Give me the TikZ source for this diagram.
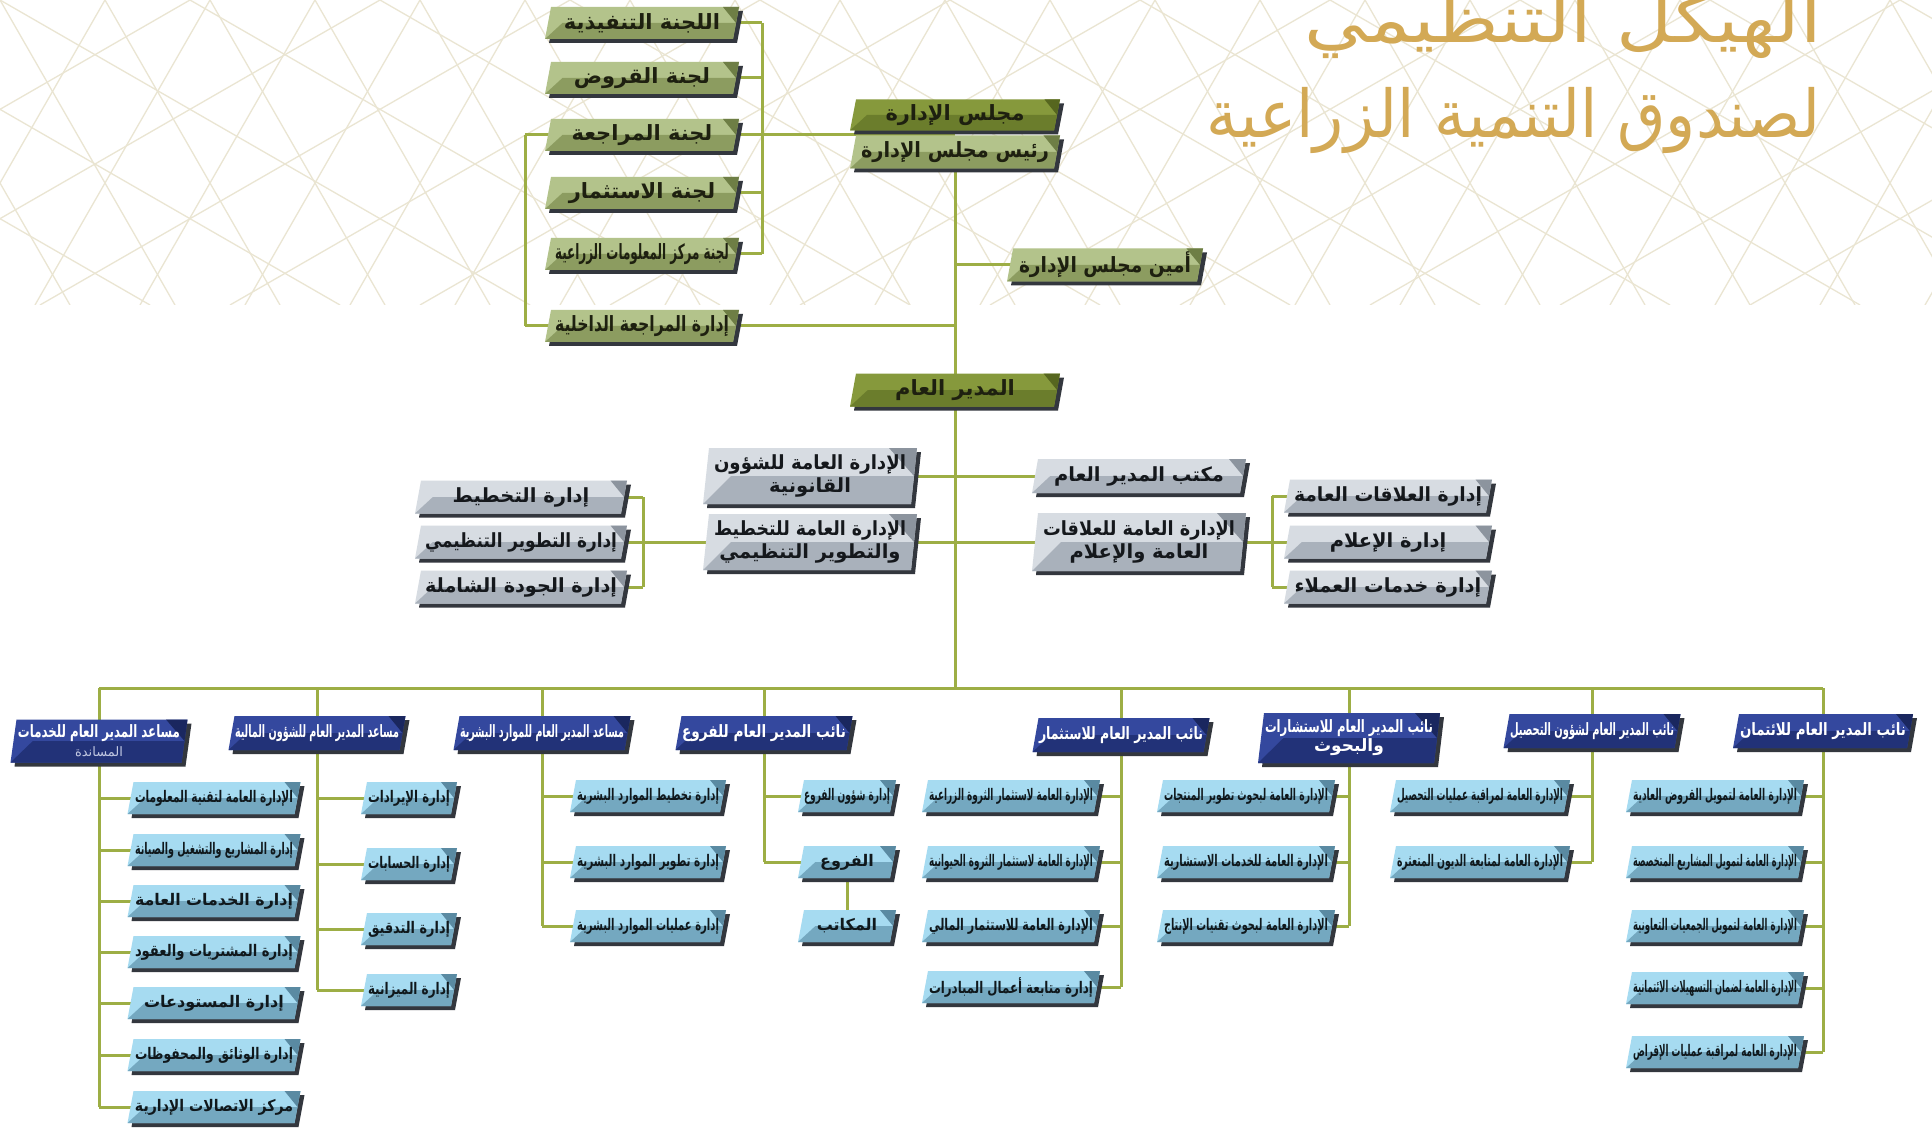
\documentclass[tikz,border=0pt]{standalone}
\usepackage{fontspec}
\usepackage{graphicx}
\newfontfamily\arabicfont[Script=Arabic]{DejaVu Sans}
\TeXXeTstate=1
\usetikzlibrary{calc}
\pgfdeclarelayer{bg}\pgfdeclarelayer{lines}\pgfsetlayers{bg,lines,main}
\definecolor{grA}{HTML}{B3C38B}\definecolor{grB}{HTML}{8C9C60}\definecolor{grC}{HTML}{6E7E45}\definecolor{grT}{HTML}{1E2010}
\definecolor{dgA}{HTML}{86993C}\definecolor{dgB}{HTML}{6B7D2C}\definecolor{dgC}{HTML}{56661F}\definecolor{dgT}{HTML}{1E2010}
\definecolor{gyA}{HTML}{D7DCE2}\definecolor{gyB}{HTML}{A9B1BB}\definecolor{gyC}{HTML}{8C949E}\definecolor{gyT}{HTML}{15181C}
\definecolor{dbA}{HTML}{34489E}\definecolor{dbB}{HTML}{223278}\definecolor{dbC}{HTML}{1A275F}\definecolor{dbT}{HTML}{FFFFFF}
\definecolor{lbA}{HTML}{A6DBF1}\definecolor{lbB}{HTML}{74A8C0}\definecolor{lbC}{HTML}{5A8AA2}\definecolor{lbT}{HTML}{10181C}
\definecolor{shc}{HTML}{33373E}
\definecolor{lnc}{HTML}{9DAE45}
\definecolor{patc}{HTML}{EAE5D2}
\definecolor{gold}{HTML}{D3A955}
\newcommand\arx[1]{{\arabicfont #1}}
\newsavebox\tbx
\newcommand\fitT[2]{\sbox\tbx{\arx{#2}}\ifdim\wd\tbx>#1pt\relax\resizebox{#1pt}{\height}{\usebox\tbx}\else\usebox\tbx\fi}
\def\sk{6}
\newcommand\bx[7]{%
\pgfmathsetmacro\bxL{#2-#4/2}\pgfmathsetmacro\bxR{#2+#4/2}%
\pgfmathsetmacro\bxT{#3-#5/2}\pgfmathsetmacro\bxB{#3+#5/2}%
\pgfmathsetmacro\bxH{#5}%
\fill[shc] (\bxL+\sk+4,\bxT+4) -- (\bxR+4,\bxT+4) -- (\bxR-\sk+4,\bxB+4) -- (\bxL+4,\bxB+4) -- cycle;
\fill[#6A] (\bxL+\sk,\bxT) -- (\bxR,\bxT) -- (\bxR-\sk,\bxB) -- (\bxL,\bxB) -- cycle;
\fill[#6B] (\bxL,\bxB) -- (\bxL+\sk/2+0.45*\bxH,#3) -- (\bxR-\sk/2,#3) -- (\bxR-\sk,\bxB) -- cycle;
\fill[#6C] (\bxR-0.5*\bxH,\bxT) -- (\bxR,\bxT) -- (\bxR-\sk/2,#3) -- cycle;
\node[#6, text=#6T, inner sep=0pt, minimum width=#4, minimum height=#5, align=center] (#1) at (#2,#3) {#7};
}
\tikzset{
gr/.style={font=\fontsize{21}{24}\selectfont\bfseries},
dg/.style={font=\fontsize{21}{24}\selectfont\bfseries},
gy/.style={font=\fontsize{19.5}{23}\selectfont\bfseries},
db/.style={font=\fontsize{17}{19}\selectfont\bfseries},
lb/.style={font=\fontsize{16}{18}\selectfont\bfseries},
ln/.style={draw=lnc, line width=3pt},
patline/.style={draw=patc, line width=1.3pt}
}
\begin{document}
\begin{tikzpicture}[x=1pt,y=-1pt]
\useasboundingbox (0,0) rectangle (1932,1131);
\begin{pgfonlayer}{bg}
\fill[white] (0,0) rectangle (1932,1131);
\begin{scope}
\clip (0,0) rectangle (1932,305);
\foreach \i in {-6,...,22} {
  \draw[patline] (\i*105,0) -- ++(175,305);
  \draw[patline] (\i*105,0) -- ++(-175,305);
}
\foreach \i in {-4,...,14} {
  \draw[patline] (\i*190,0) -- ++(530,305);
  \draw[patline] (\i*190,0) -- ++(-530,305);
}
\end{scope}
\end{pgfonlayer}

% title
\node[anchor=base east, inner sep=0pt, text=gold, font=\fontsize{66}{70}\selectfont] (ttl1) at (1822,43) {\resizebox{517pt}{\height}{\arx{\beginR الهيكل التنظيمي\endR}}};
\node[anchor=base east, inner sep=0pt, text=gold, font=\fontsize{66}{70}\selectfont] (ttl2) at (1821,138) {\resizebox{614pt}{\height}{\arx{\beginR لصندوق التنمية الزراعية\endR}}};

% committees
\bx{c1}{642}{23}{194}{32}{gr}{\fitT{172}{\beginR اللجنة التنفيذية\endR}}
\bx{c2}{642}{78}{194}{32}{gr}{\fitT{172}{\beginR لجنة القروض\endR}}
\bx{c3}{642}{135}{194}{32}{gr}{\fitT{172}{\beginR لجنة المراجعة\endR}}
\bx{c4}{642}{193}{194}{32}{gr}{\fitT{172}{\beginR لجنة الاستثمار\endR}}
\bx{c5}{642}{254}{194}{32}{gr}{\fitT{174}{\beginR لجنة مركز المعلومات الزراعية\endR}}
\bx{c6}{642}{326}{194}{32}{gr}{\fitT{174}{\beginR إدارة المراجعة الداخلية\endR}}
% board
\bx{board}{955}{115}{210}{31}{dg}{\fitT{180}{\beginR مجلس الإدارة\endR}}
\bx{chair}{955}{152}{210}{33}{gr}{\fitT{188}{\beginR رئيس مجلس الإدارة\endR}}
\bx{sec}{1105}{265}{196}{33}{gr}{\fitT{172}{\beginR أمين مجلس الإدارة\endR}}
\bx{gm}{955}{390}{210}{33}{dg}{\fitT{180}{\beginR المدير العام\endR}}
% middle
\bx{legal}{810}{476}{214}{56}{gy}{\fitT{192}{\beginR الإدارة العامة للشؤون\endR}\\\fitT{192}{\beginR القانونية\endR}}
\bx{office}{1139}{476}{214}{34}{gy}{\fitT{192}{\beginR مكتب المدير العام\endR}}
\bx{plan}{810}{542}{214}{56}{gy}{\fitT{192}{\beginR الإدارة العامة للتخطيط\endR}\\\fitT{192}{\beginR والتطوير التنظيمي\endR}}
\bx{pr}{1139}{542}{214}{58}{gy}{\fitT{192}{\beginR الإدارة العامة للعلاقات\endR}\\\fitT{192}{\beginR العامة والإعلام\endR}}
\bx{p1}{521}{497}{212}{33}{gy}{\fitT{192}{\beginR إدارة التخطيط\endR}}
\bx{p2}{521}{542}{212}{33}{gy}{\fitT{192}{\beginR إدارة التطوير التنظيمي\endR}}
\bx{p3}{521}{587}{212}{33}{gy}{\fitT{192}{\beginR إدارة الجودة الشاملة\endR}}
\bx{r1}{1388}{496}{208}{33}{gy}{\fitT{188}{\beginR إدارة العلاقات العامة\endR}}
\bx{r2}{1388}{542}{208}{33}{gy}{\fitT{188}{\beginR إدارة الإعلام\endR}}
\bx{r3}{1388}{587}{208}{33}{gy}{\fitT{188}{\beginR إدارة خدمات العملاء\endR}}
% level 1
\bx{sup}{99}{741}{177}{43}{db}{\fitT{162}{\beginR مساعد المدير العام للخدمات\endR}\\{\color{white!70!dbA}\fontsize{13}{14}\selectfont\mdseries\fitT{100}{\beginR المساندة\endR}}}
\bx{fin}{317}{733}{177}{34}{db}{\fitT{164}{\beginR مساعد المدير العام للشؤون المالية\endR}}
\bx{hr}{542}{733}{177}{34}{db}{\fitT{164}{\beginR مساعد المدير العام للموارد البشرية\endR}}
\bx{br}{764}{733}{177}{34}{db}{\fitT{164}{\beginR نائب المدير العام للفروع\endR}}
\bx{inv}{1121}{735}{177}{34}{db}{\fitT{164}{\beginR نائب المدير العام للاستثمار\endR}}
\bx{con}{1349}{738}{182}{50}{db}{\fitT{168}{\beginR نائب المدير العام للاستشارات\endR}\\\fitT{168}{\beginR والبحوث\endR}}
\bx{col}{1592}{731}{177}{34}{db}{\fitT{164}{\beginR نائب المدير العام لشؤون التحصيل\endR}}
\bx{cr}{1823}{731}{180}{34}{db}{\fitT{166}{\beginR نائب المدير العام للائتمان\endR}}
% support services
\bx{s1}{214}{798}{173}{32}{lb}{\fitT{158}{\beginR الإدارة العامة لتقنية المعلومات\endR}}
\bx{s2}{214}{850}{173}{32}{lb}{\fitT{158}{\beginR إدارة المشاريع والتشغيل والصيانة\endR}}
\bx{s3}{214}{901}{173}{32}{lb}{\fitT{158}{\beginR إدارة الخدمات العامة\endR}}
\bx{s4}{214}{952}{173}{32}{lb}{\fitT{158}{\beginR إدارة المشتريات والعقود\endR}}
\bx{s5}{214}{1003}{173}{32}{lb}{\fitT{158}{\beginR إدارة المستودعات\endR}}
\bx{s6}{214}{1055}{173}{32}{lb}{\fitT{158}{\beginR إدارة الوثائق والمحفوظات\endR}}
\bx{s7}{214}{1107}{173}{32}{lb}{\fitT{158}{\beginR مركز الاتصالات الإدارية\endR}}
% finance
\bx{f1}{409}{798}{96}{32}{lb}{\fitT{82}{\beginR إدارة الإيرادات\endR}}
\bx{f2}{409}{864}{96}{32}{lb}{\fitT{82}{\beginR إدارة الحسابات\endR}}
\bx{f3}{409}{929}{96}{32}{lb}{\fitT{82}{\beginR إدارة التدقيق\endR}}
\bx{f4}{409}{990}{96}{32}{lb}{\fitT{82}{\beginR إدارة الميزانية\endR}}
% hr
\bx{h1}{648}{796}{156}{32}{lb}{\fitT{142}{\beginR إدارة تخطيط الموارد البشرية\endR}}
\bx{h2}{648}{862}{156}{32}{lb}{\fitT{142}{\beginR إدارة تطوير الموارد البشرية\endR}}
\bx{h3}{648}{926}{156}{32}{lb}{\fitT{142}{\beginR إدارة عمليات الموارد البشرية\endR}}
% branches
\bx{b1}{847}{796}{98}{32}{lb}{\fitT{86}{\beginR إدارة شؤون الفروع\endR}}
\bx{b2}{847}{862}{98}{32}{lb}{\fitT{86}{\beginR الفروع\endR}}
\bx{b3}{847}{926}{98}{32}{lb}{\fitT{86}{\beginR المكاتب\endR}}
% investment
\bx{i1}{1011}{796}{178}{32}{lb}{\fitT{164}{\beginR الإدارة العامة لاستثمار الثروة الزراعية\endR}}
\bx{i2}{1011}{862}{178}{32}{lb}{\fitT{164}{\beginR الإدارة العامة لاستثمار الثروة الحيوانية\endR}}
\bx{i3}{1011}{926}{178}{32}{lb}{\fitT{164}{\beginR الإدارة العامة للاستثمار المالي\endR}}
\bx{i4}{1011}{987}{178}{32}{lb}{\fitT{164}{\beginR إدارة متابعة أعمال المبادرات\endR}}
% consulting
\bx{k1}{1246}{796}{178}{32}{lb}{\fitT{164}{\beginR الإدارة العامة لبحوث تطوير المنتجات\endR}}
\bx{k2}{1246}{862}{178}{32}{lb}{\fitT{164}{\beginR الإدارة العامة للخدمات الاستشارية\endR}}
\bx{k3}{1246}{926}{178}{32}{lb}{\fitT{164}{\beginR الإدارة العامة لبحوث تقنيات الإنتاج\endR}}
% collection
\bx{g1}{1480}{796}{180}{32}{lb}{\fitT{166}{\beginR الإدارة العامة لمراقبة عمليات التحصيل\endR}}
\bx{g2}{1480}{862}{180}{32}{lb}{\fitT{166}{\beginR الإدارة العامة لمتابعة الديون المتعثرة\endR}}
% credit
\bx{e1}{1715}{796}{178}{32}{lb}{\fitT{164}{\beginR الإدارة العامة لتمويل القروض العادية\endR}}
\bx{e2}{1715}{862}{178}{32}{lb}{\fitT{164}{\beginR الإدارة العامة لتمويل المشاريع المتخصصة\endR}}
\bx{e3}{1715}{926}{178}{32}{lb}{\fitT{164}{\beginR الإدارة العامة لتمويل الجمعيات التعاونية\endR}}
\bx{e4}{1715}{988}{178}{32}{lb}{\fitT{164}{\beginR الإدارة العامة لضمان التسهيلات الائتمانية\endR}}
\bx{e5}{1715}{1052}{178}{32}{lb}{\fitT{164}{\beginR الإدارة العامة لمراقبة عمليات الإقراض\endR}}

\begin{pgfonlayer}{lines}
\coordinate (rs) at (762,0);
\coordinate (ls) at (525,0);
\coordinate (lbk) at (643,0);
\coordinate (rbk) at (1272,0);
\coordinate (bus) at (0,688);
\draw[ln] (c1.center -| rs) -- (c5.center -| rs);
\foreach \q in {c1,c2,c4,c5} \draw[ln] (\q.center) -- (\q.center -| rs);
\draw[ln] (c3.center) -- (c3.center -| board.center);
\draw[ln] (c3.center -| ls) -- (c6.center -| ls);
\draw[ln] (c3.center) -- (c3.center -| ls);
\draw[ln] (c6.center) -- (c6.center -| ls);
\draw[ln] (c6.center) -- (c6.center -| chair.center);
\draw[ln] (chair.center) -- (gm.center);
\draw[ln] (sec.center) -- (sec.center -| chair.center);
\draw[ln] (gm.center) -- (gm.center |- bus);
\draw[ln] (legal.center) -- (office.center);
\draw[ln] (plan.center) -- (pr.center);
\draw[ln] (p1.center -| lbk) -- (p3.center -| lbk);
\foreach \q in {p1,p2,p3} \draw[ln] (\q.center) -- (\q.center -| lbk);
\draw[ln] (plan.center) -- (plan.center -| lbk);
\draw[ln] (r1.center -| rbk) -- (r3.center -| rbk);
\foreach \q in {r1,r2,r3} \draw[ln] (\q.center) -- (\q.center -| rbk);
\draw[ln] (pr.center) -- (pr.center -| rbk);
\draw[ln] (sup.center |- bus) -- (cr.center |- bus);
\foreach \q in {sup,fin,hr,br,inv,con,col,cr} \draw[ln] (\q.center |- bus) -- (\q.center);
\draw[ln] (sup.center) -- (sup.center |- s7.center);
\foreach \q in {s1,s2,s3,s4,s5,s6,s7} \draw[ln] (\q.center) -- (\q.center -| sup.center);
\draw[ln] (fin.center) -- (fin.center |- f4.center);
\foreach \q in {f1,f2,f3,f4} \draw[ln] (\q.center) -- (\q.center -| fin.center);
\draw[ln] (hr.center) -- (hr.center |- h3.center);
\foreach \q in {h1,h2,h3} \draw[ln] (\q.center) -- (\q.center -| hr.center);
\draw[ln] (br.center) -- (br.center |- b2.center);
\foreach \q in {b1,b2} \draw[ln] (\q.center) -- (\q.center -| br.center);
\draw[ln] (b2.center) -- (b3.center);
\draw[ln] (inv.center) -- (inv.center |- i4.center);
\foreach \q in {i1,i2,i3,i4} \draw[ln] (\q.center) -- (\q.center -| inv.center);
\draw[ln] (con.center) -- (con.center |- k3.center);
\foreach \q in {k1,k2,k3} \draw[ln] (\q.center) -- (\q.center -| con.center);
\draw[ln] (col.center) -- (col.center |- g2.center);
\foreach \q in {g1,g2} \draw[ln] (\q.center) -- (\q.center -| col.center);
\draw[ln] (cr.center) -- (cr.center |- e5.center);
\foreach \q in {e1,e2,e3,e4,e5} \draw[ln] (\q.center) -- (\q.center -| cr.center);
\end{pgfonlayer}
\end{tikzpicture}
\end{document}
